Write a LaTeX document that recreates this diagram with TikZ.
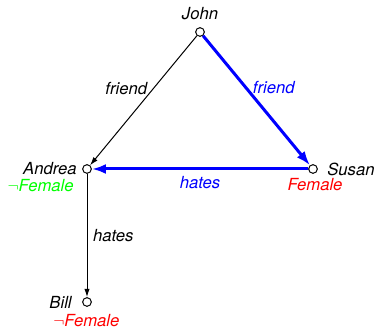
\documentclass[tikz,border=0pt]{standalone}
\usepackage{fontspec}
\setmainfont{TeX Gyre Heros}
\usetikzlibrary{arrows.meta}
\usetikzlibrary{positioning}
\tikzset{
vertex/.style={
	circle,
	draw=black,
	fill=white,
	line width=0.6pt,
	inner sep=0pt,
	minimum size=5.2pt
},
tag/.style={
	inner sep=0pt,
	text=black
},
edge/.style={
	->,
	>={Latex[length=5pt, width=3.2pt]},
	draw=black,
	line width=0.6pt
},
hot/.style={
	->,
	>={Latex[length=8.5pt, width=6pt]},
	draw=blue,
	line width=1.8pt
}
}
\begin{document}
\begin{tikzpicture}[x=0.6pt, y=-0.6pt, font=\itshape]
\useasboundingbox (0,0) rectangle (377,330);
% ===== Vertices =====
\node (john)   [vertex] at (200, 32)  {};
\node (andrea) [vertex] at (87, 169)  {};
\node (susan)  [vertex] at (313, 169) {};
\node (bill)   [vertex] at (87, 302)  {};
% ===== Names and attributes =====
\node (johnName)    [tag]                  at (200, 14)  {John};
\node (andreaName)  [tag, anchor=east]     at (77, 169)  {Andrea};
\node (andreaAttr)  [tag, anchor=east, text=green] at (74, 186) {$\neg$Female};
\node (susanName)   [tag, anchor=west]     at (327, 169) {Susan};
\node (susanAttr)   [tag, text=red]        at (315, 185) {Female};
\node (billName)    [tag, anchor=east]     at (72, 302)  {Bill};
\node (billAttr)    [tag, anchor=west, text=red] at (53, 321) {$\neg$Female};
% ===== Edges =====
\draw [edge] (john)   -- node (f1) [pos=0.41, left] {friend} (andrea);
\draw [hot]  (john)   -- node (f2) [pos=0.40, right, text=blue] {friend} (susan);
\draw [hot]  (susan)  -- node (h1) [pos=0.5, below, text=blue] {hates} (andrea);
\draw [edge] (andrea) -- node (h2) [pos=0.5, right] {hates} (bill);
\end{tikzpicture}
\end{document}
